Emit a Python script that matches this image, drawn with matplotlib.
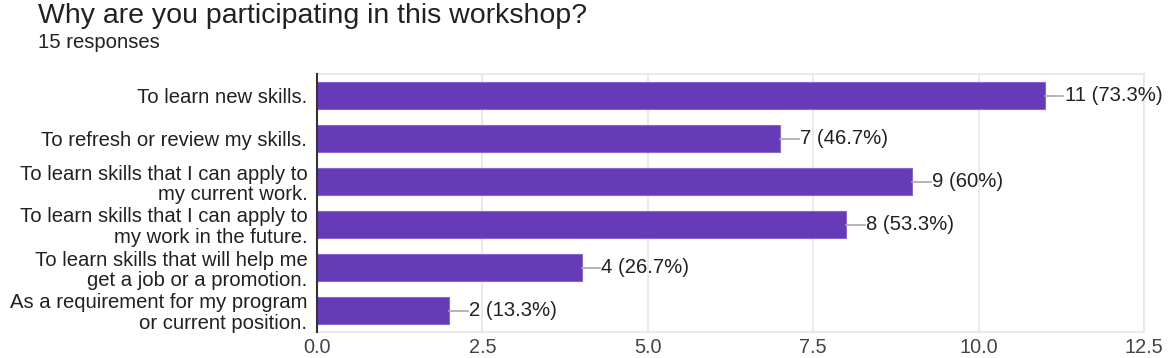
import matplotlib.pyplot as plt
import numpy as np

plt.rcParams['font.family'] = ['Liberation Sans', 'DejaVu Sans']

categories = [
    "To learn new skills.",
    "To refresh or review my skills.",
    "To learn skills that I can apply to\nmy current work.",
    "To learn skills that I can apply to\nmy work in the future.",
    "To learn skills that will help me\nget a job or a promotion.",
    "As a requirement for my program\nor current position.",
]
counts = [11, 7, 9, 8, 4, 2]
labels = ["11 (73.3%)", "7 (46.7%)", "9 (60%)", "8 (53.3%)", "4 (26.7%)", "2 (13.3%)"]

barColor = "#673AB7"
textColor = "#212121"

fig = plt.figure(figsize=(11.7, 3.58), dpi=100)
ax = fig.add_axes([317/1170, 26/358, 827/1170, 258/358])

y = np.arange(len(categories))
ax.barh(y, counts, height=0.63, color=barColor, edgecolor="#8A67D0", linewidth=0.8, zorder=3)
for i in range(len(counts)):
    ax.plot([counts[i], counts[i] + 0.28], [i, i], color="#a8a8a8", linewidth=1.2, zorder=3)
    ax.text(counts[i] + 0.3, i, labels[i], va="center", ha="left", fontsize=14.6, color=textColor)

ax.set_xlim(0, 12.5)
ax.set_ylim(len(categories) - 0.5, -0.5)
ax.set_yticks(y)
ax.set_yticklabels(categories, fontsize=14.6, color=textColor, linespacing=1.1)
ax.set_xticks([0, 2.5, 5, 7.5, 10, 12.5])
ax.set_xticklabels(["0.0", "2.5", "5.0", "7.5", "10.0", "12.5"], fontsize=14.3, color="#444444")
ax.tick_params(axis="x", length=0, pad=4)
ax.tick_params(axis="y", length=0, pad=7)
ax.grid(axis="x", color="#e6e6e6", linewidth=1.2, zorder=0)
for s in ["top", "right", "bottom"]:
    ax.spines[s].set_color("#e6e6e6")
    ax.spines[s].set_linewidth(1.2)
ax.spines["left"].set_color("#333333")
ax.spines["left"].set_linewidth(1.5)
ax.spines["left"].set_zorder(4)

fig.text(38/1170, 1 - 16/358, "Why are you participating in this workshop?", fontsize=20.5, color=textColor, va="center", ha="left")
fig.text(38/1170, 1 - 42/358, "15 responses", fontsize=14.6, color=textColor, va="center", ha="left")

fig.savefig("out.png", dpi=100, facecolor="white")
